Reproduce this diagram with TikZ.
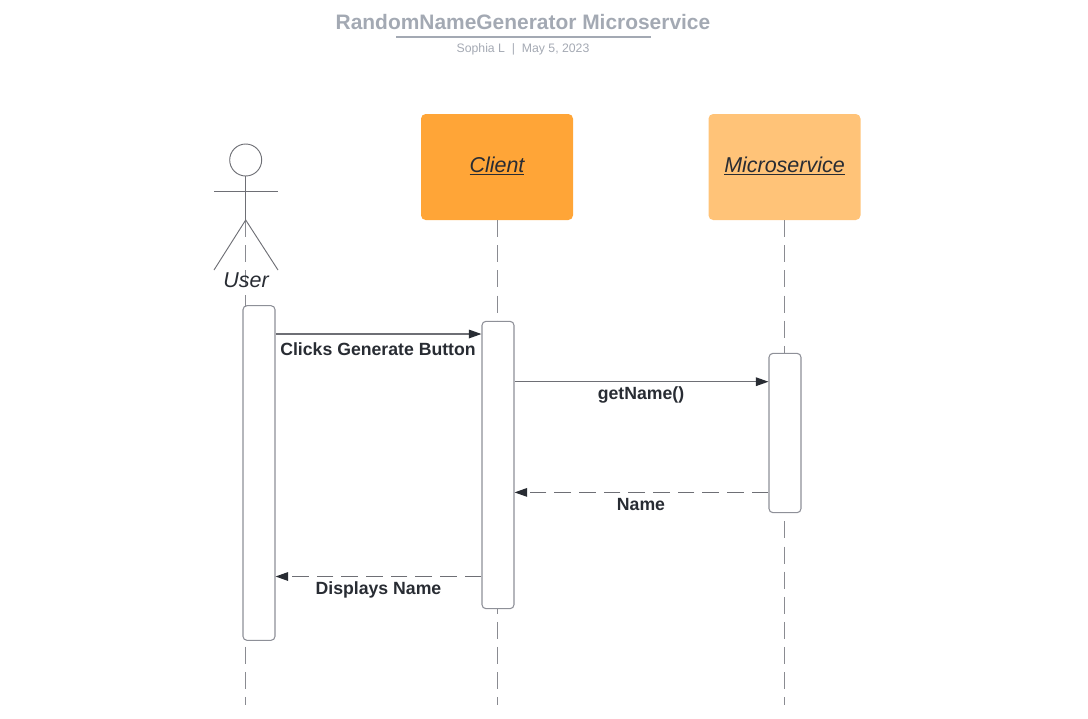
\documentclass[tikz,border=0pt]{standalone}
\usepackage{fontspec}
\setmainfont{Liberation Sans}
\usetikzlibrary{arrows.meta}
\definecolor{titlegray}{HTML}{A3A9B3}
\definecolor{subgray}{HTML}{A4A9B3}
\definecolor{ink}{HTML}{282C33}
\definecolor{boxline}{HTML}{8E9098}
\definecolor{lifeline}{HTML}{8A8B91}
\definecolor{msgline}{HTML}{6E6F75}
\definecolor{clientfill}{HTML}{FFA537}
\definecolor{microfill}{HTML}{FFC378}
\newcommand{\headtext}[1]{\underline{#1}\rule[-3.6pt]{0pt}{1pt}}
\tikzset{
  x=0.75pt,y=-0.75pt,
  headbox/.style={rounded corners=3.5pt,inner sep=0pt,text=ink,font=\fontsize{16.1}{20}\selectfont\itshape},
  actbox/.style={draw=boxline,line width=0.8pt,fill=white,rounded corners=3pt,inner sep=0pt,minimum width=24pt},
  lifedash/.style={draw=lifeline,line width=1pt,dash pattern=on 12.75pt off 6.075pt},
  msg/.style={draw=msgline,line width=0.9pt,-{Triangle[length=9.5pt,width=6.5pt,color=ink]}},
  msgret/.style={msg,dash pattern=on 12.5pt off 6pt},
  msglabel/.style={inner sep=0pt,text=ink,font=\fontsize{13.25}{16}\selectfont\bfseries},
  stick/.style={draw=msgline,line width=0.7pt},
}
\begin{document}
\begin{tikzpicture}
\useasboundingbox (0,0) rectangle (1088,718);
% title
\node[inner sep=0pt,text=titlegray,font=\fontsize{15.7}{18}\selectfont\bfseries] (title) at (523,22) {RandomNameGenerator Microservice};
\coordinate (ruleL) at (396,37);
\coordinate (ruleR) at (651,37);
\draw[draw=titlegray,line width=1.2pt] (ruleL) -- (ruleR);
\node[inner sep=0pt,text=subgray,font=\fontsize{9.2}{11}\selectfont] (sub) at (523,49.5) {Sophia L\ \ |\ \ May 5, 2023};
% lifeline ends
\coordinate (uneck) at (245.7,220);
\coordinate (uend) at (245.7,705);
\coordinate (cend) at (497.3,705);
\coordinate (mend) at (784.5,705);
% heads
\node[headbox,fill=clientfill,minimum width=114pt,minimum height=79.5pt] (client) at (497,167) {\headtext{Client}};
\node[headbox,fill=microfill,minimum width=114pt,minimum height=79.5pt] (micro) at (784.5,167) {\headtext{Microservice}};
% lifelines
\draw[lifedash] (uneck) -- (uend);
\draw[lifedash] (client.south -| cend) -- (cend);
\draw[lifedash] (micro.south) -- (mend);
% actor
\node[circle,draw=msgline,line width=0.7pt,minimum size=24pt,inner sep=0pt] (head) at (245.7,160) {};
\coordinate (hip) at (245.7,220);
\coordinate (armL) at (214,191);
\coordinate (armR) at (278,191);
\coordinate (footL) at (214,270);
\coordinate (footR) at (278,270);
\draw[stick] (head.south) -- (hip);
\draw[stick] (armL) -- (armR);
\draw[stick] (footL) -- (hip) -- (footR);
\node[inner sep=0pt,text=ink,font=\fontsize{16.1}{20}\selectfont\itshape] (user) at (246,280) {User};
% activations
\node[actbox,minimum height=251pt] (uact) at (259,473) {};
\node[actbox,minimum height=215.5pt] (cact) at (498,465) {};
\node[actbox,minimum height=119.5pt] (mact) at (785,433) {};
% messages
\coordinate (y1) at (0,334);
\coordinate (y2) at (0,381.7);
\coordinate (y3) at (0,492.4);
\coordinate (y4) at (0,576.5);
\draw[msg] (uact.east |- y1) -- (cact.west |- y1);
\draw[msg] (cact.east |- y2) -- (mact.west |- y2);
\draw[msgret] (mact.west |- y3) -- (cact.east |- y3);
\draw[msgret] (cact.west |- y4) -- (uact.east |- y4);
\node[msglabel] (l1) at (378,349.5) {Clicks Generate Button};
\node[msglabel] (l2) at (641,394.5) {getName()};
\node[msglabel] (l3) at (641,504.5) {Name};
\node[msglabel] (l4) at (378.5,589.5) {Displays Name};
\end{tikzpicture}
\end{document}
